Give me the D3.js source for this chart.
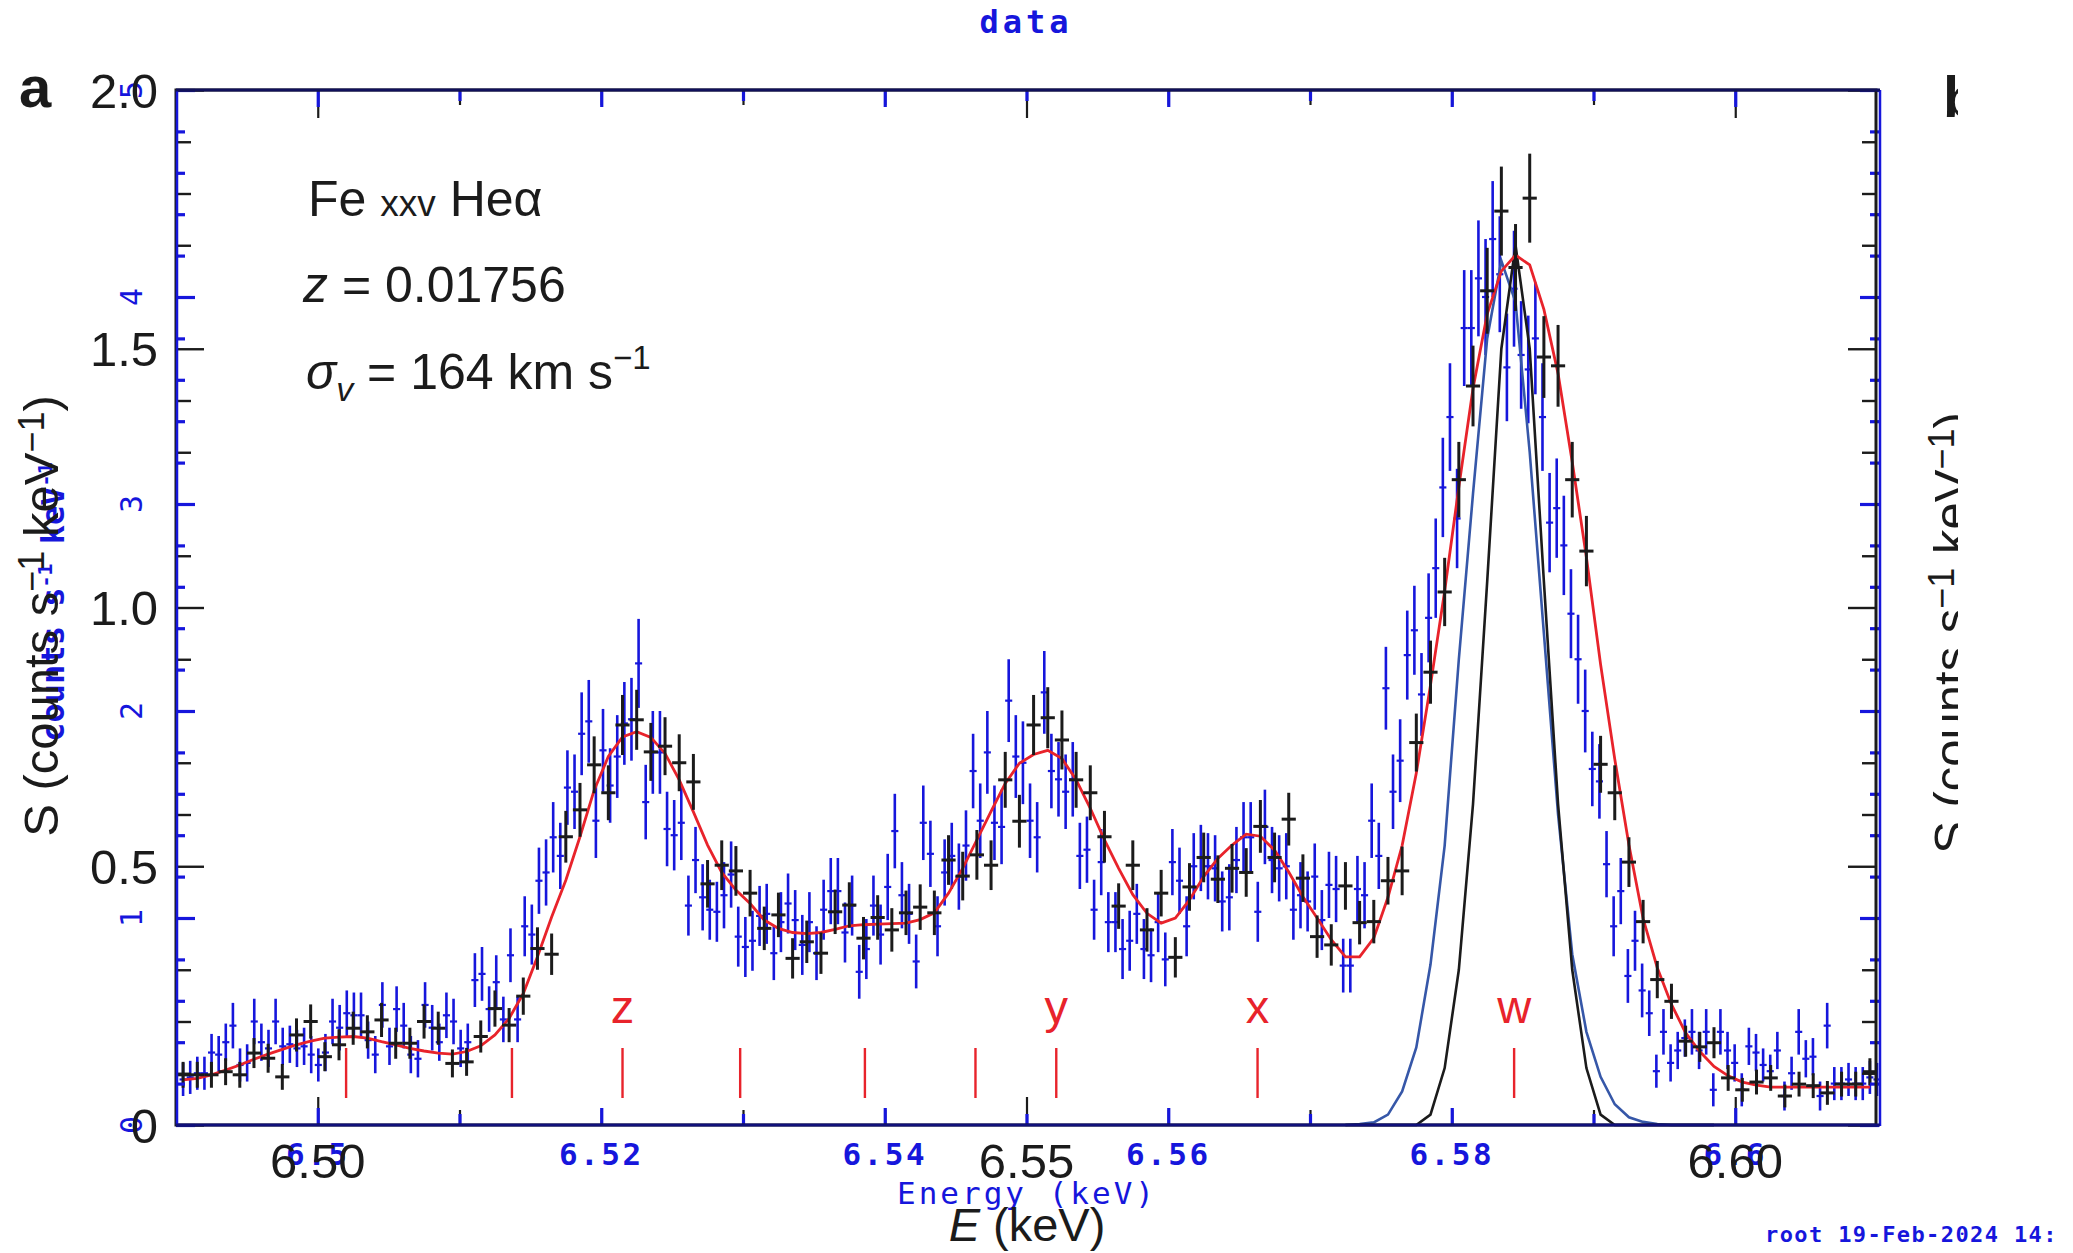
<!DOCTYPE html>
<html><head><meta charset="utf-8">
<script src="https://cdn.jsdelivr.net/npm/d3@7"></script>
<style>html,body{margin:0;padding:0;background:#fff;}svg{display:block;}</style>
</head><body>
<svg id="c" width="2073" height="1253"></svg>
<script>
// ---------------- DATA ----------------
// Black (figure) spectrum: 1 eV bins starting at 6.4905 keV, S in counts s^-1 keV^-1
const blackStart = 6.4905, blackStep = 0.001;
const blackS = [0.097,0.097,0.097,0.103,0.097,0.139,0.129,0.093,0.174,0.200,0.132,0.155,0.187,0.180,0.203,0.158,0.158,0.200,0.187,0.119,0.122,0.171,0.225,0.193,0.249,0.341,0.330,0.557,0.609,0.696,0.642,
0.773,0.783,0.721,0.732,0.700,0.663,0.466,0.502,0.491,0.448,0.380,0.406,0.322,0.354,0.332,0.412,0.425,0.361,0.401,0.377,0.410,0.421,0.410,0.512,0.481,0.522,0.502,0.667,0.587,0.773,
0.787,0.744,0.667,0.642,0.557,0.423,0.502,0.377,0.448,0.324,0.460,0.517,0.475,0.496,0.488,0.577,0.517,0.591,0.477,0.364,0.348,0.462,0.391,0.393,0.472,0.491,0.739,0.875,1.030,1.247,
1.428,1.612,1.766,1.657,1.791,1.484,1.467,1.247,1.109,0.697,0.642,0.508,0.393,0.281,0.239,0.162,0.151,0.159,0.091,0.068,0.083,0.091,0.056,0.079,0.076,0.062,0.079,0.079,0.103];
const blackErr = [0.025,0.025,0.025,0.026,0.025,0.029,0.028,0.025,0.032,0.033,0.028,0.030,0.032,0.032,0.033,0.030,0.030,0.033,0.032,0.027,0.027,0.031,0.035,0.033,0.036,0.041,0.040,0.050,0.052,0.055,0.053,
0.058,0.058,0.056,0.056,0.055,0.054,0.046,0.048,0.048,0.045,0.042,0.043,0.039,0.041,0.040,0.043,0.044,0.041,0.043,0.042,0.043,0.044,0.043,0.048,0.047,0.048,0.048,0.054,0.051,0.058,
0.059,0.057,0.054,0.053,0.050,0.044,0.048,0.042,0.045,0.039,0.046,0.048,0.046,0.047,0.047,0.051,0.048,0.051,0.046,0.041,0.040,0.046,0.042,0.042,0.046,0.047,0.056,0.061,0.066,0.073,
0.078,0.083,0.086,0.084,0.086,0.079,0.079,0.073,0.068,0.055,0.053,0.048,0.042,0.036,0.034,0.030,0.029,0.030,0.025,0.023,0.024,0.025,0.022,0.024,0.024,0.023,0.024,0.024,0.026];
// Red model, evaluated at the black bin centres
const modelS = [0.087,0.090,0.097,0.106,0.116,0.127,0.137,0.146,0.155,0.162,0.168,0.170,0.171,0.168,0.161,0.155,0.148,0.143,0.139,0.137,0.142,0.153,0.174,0.206,0.254,0.325,0.402,0.473,0.557,0.647,0.712,
0.750,0.760,0.749,0.718,0.667,0.605,0.541,0.488,0.454,0.428,0.396,0.380,0.372,0.370,0.372,0.378,0.385,0.387,0.388,0.389,0.390,0.397,0.410,0.448,0.496,0.551,0.606,0.660,0.699,0.716,
0.724,0.708,0.667,0.612,0.551,0.496,0.445,0.409,0.390,0.400,0.435,0.480,0.515,0.541,0.562,0.558,0.531,0.489,0.441,0.400,0.358,0.325,0.325,0.361,0.440,0.540,0.680,0.850,1.032,1.233,
1.423,1.567,1.650,1.681,1.662,1.576,1.452,1.281,1.097,0.890,0.707,0.541,0.399,0.304,0.233,0.178,0.142,0.113,0.095,0.083,0.077,0.073,0.073,0.073,0.073,0.073,0.073,0.073,0.073];
// w-line profiles (black: intrinsic, dark blue: broadened), black bins 82..108
const wFirstBin = 82;
const wNarrow = [0,0,0,0,0,0,0.02,0.11,0.30,0.62,1.05,1.50,1.70,1.50,1.05,0.62,0.30,0.11,0.02,0,0,0,0,0,0,0,0];
const wBroad  = [0,0.002,0.005,0.02,0.065,0.15,0.31,0.54,0.90,1.22,1.52,1.67,1.59,1.30,0.95,0.60,0.33,0.18,0.093,0.04,0.015,0.006,0.002,0,0,0,0];
// Blue (XSPEC) spectrum: 0.5 eV bins from 6.4905 to 6.6100 keV, counts s^-1 keV^-1
const blueFirst = 6.4905, blueLast = 6.6100;
const blueC = [0.22,0.23,0.25,0.25,0.35,0.34,0.40,0.48,0.29,0.30,
0.50,0.40,0.37,0.50,0.38,0.39,0.37,0.38,0.34,0.29,
0.35,0.50,0.47,0.54,0.53,0.53,0.41,0.34,0.58,0.38,
0.56,0.48,0.34,0.32,0.58,0.47,0.40,0.53,0.50,0.37,
0.40,0.70,0.73,0.56,0.69,0.51,0.82,0.51,0.96,0.92,
1.18,1.22,1.39,1.30,1.63,1.61,1.89,1.95,1.47,1.81,
1.64,1.78,1.94,1.96,2.23,1.56,1.80,1.80,1.43,1.40,
1.46,1.06,1.28,1.10,1.04,1.03,1.11,1.21,0.91,0.86,
0.89,1.01,1.02,0.83,0.98,1.07,0.99,0.87,0.98,0.83,
1.04,1.13,1.13,0.93,1.06,0.74,0.85,1.06,0.92,1.15,
1.42,1.11,1.02,0.79,1.46,1.31,0.96,1.22,1.30,1.20,
1.35,1.71,1.47,1.80,1.46,1.44,2.05,1.78,1.75,1.47,
1.39,2.09,1.71,1.67,1.61,1.67,1.30,1.33,1.04,1.27,
0.98,0.98,0.85,0.89,1.02,0.85,0.82,0.98,0.80,1.27,
1.18,0.96,1.25,1.29,1.25,1.24,1.08,1.10,1.28,1.39,
1.39,1.03,1.44,1.28,1.24,1.25,1.04,1.11,1.08,1.20,
0.99,1.16,1.14,0.77,0.77,1.14,1.11,1.47,1.30,2.11,
1.61,1.76,2.27,2.39,2.08,2.45,2.69,3.08,3.42,2.93,
3.85,3.85,4.09,4.00,4.28,4.11,3.66,4.04,3.72,3.65,
3.80,3.42,2.91,2.98,2.80,2.47,2.25,2.00,1.72,1.66,
1.26,0.96,1.13,0.72,0.89,0.65,0.54,0.26,0.45,0.30,
0.36,0.42,0.45,0.36,0.45,0.17,0.45,0.36,0.30,0.17,
0.38,0.35,0.29,0.26,0.36,0.14,0.25,0.45,0.32,0.33,
0.14,0.48,0.20,0.20,0.22,0.20,0.20,0.23,0.22];
const blueErr = [0.08,0.08,0.08,0.08,0.09,0.09,0.09,0.11,0.08,0.09,
0.11,0.09,0.09,0.11,0.09,0.09,0.09,0.09,0.09,0.08,
0.09,0.11,0.11,0.11,0.11,0.11,0.09,0.09,0.11,0.09,
0.11,0.11,0.09,0.09,0.11,0.11,0.09,0.11,0.11,0.09,
0.09,0.13,0.13,0.11,0.13,0.11,0.13,0.11,0.145,0.145,
0.16,0.16,0.17,0.16,0.18,0.18,0.20,0.20,0.18,0.20,
0.18,0.20,0.20,0.20,0.215,0.18,0.20,0.20,0.18,0.17,
0.18,0.145,0.16,0.16,0.145,0.145,0.16,0.16,0.145,0.145,
0.145,0.145,0.145,0.13,0.145,0.145,0.145,0.145,0.145,0.13,
0.145,0.16,0.16,0.145,0.145,0.13,0.145,0.145,0.145,0.16,
0.18,0.16,0.145,0.13,0.18,0.16,0.145,0.16,0.16,0.16,
0.17,0.18,0.18,0.20,0.18,0.18,0.20,0.20,0.20,0.18,
0.17,0.20,0.18,0.18,0.18,0.18,0.16,0.16,0.145,0.16,
0.145,0.145,0.145,0.145,0.145,0.145,0.13,0.145,0.13,0.16,
0.16,0.145,0.16,0.16,0.16,0.16,0.145,0.16,0.16,0.17,
0.17,0.145,0.18,0.16,0.16,0.16,0.145,0.16,0.145,0.16,
0.145,0.16,0.16,0.13,0.13,0.16,0.16,0.18,0.16,0.20,
0.18,0.20,0.215,0.215,0.20,0.215,0.24,0.24,0.26,0.24,
0.28,0.28,0.28,0.28,0.28,0.28,0.26,0.28,0.26,0.26,
0.27,0.26,0.24,0.24,0.24,0.215,0.215,0.20,0.18,0.18,
0.16,0.145,0.16,0.13,0.145,0.13,0.11,0.08,0.11,0.09,
0.09,0.09,0.11,0.09,0.11,0.08,0.11,0.09,0.09,0.08,
0.09,0.09,0.08,0.08,0.09,0.07,0.08,0.11,0.09,0.09,
0.07,0.11,0.08,0.08,0.08,0.08,0.08,0.08,0.08];
// line markers (keV) and labels
const markerE = [6.5020,6.5137,6.5215,6.5298,6.5386,6.5464,6.5521,6.5663,6.5844];
const markerLabel = ["","","z","","","","y","x","w"];
// axis ticks
const xMajor = [6.50,6.55,6.60];
const xMajorLabel = ["6.50","6.55","6.60"];
const xMinor = [6.51,6.52,6.53,6.54,6.56,6.57,6.58,6.59];
const yMajor = [0,0.5,1.0,1.5,2.0];
const yMajorLabel = ["0","0.5","1.0","1.5","2.0"];
const yMinor = [0.1,0.2,0.3,0.4,0.6,0.7,0.8,0.9,1.1,1.2,1.3,1.4,1.6,1.7,1.8,1.9];
const bxMajor = [6.50,6.52,6.54,6.56,6.58,6.60];
const bxMajorLabel = ["6.5","6.52","6.54","6.56","6.58","6.6"];
const bxMinor = [6.51,6.53,6.55,6.57,6.59];
const byMajor = [0,1,2,3,4,5];
const byMinor = [0.2,0.4,0.6,0.8,1.2,1.4,1.6,1.8,2.2,2.4,2.6,2.8,3.2,3.4,3.6,3.8,4.2,4.4,4.6,4.8];

// ---------------- SCALES ----------------
const L=176, R=1876, T=90, B=1125;
const x = d3.scaleLinear().domain([6.49,6.61]).range([L,R+1]);
const yS = d3.scaleLinear().domain([0,2]).range([B,T]);
const yC = d3.scaleLinear().domain([0,5]).range([B,T]);
const blackE = blackS.map((_,i)=>blackStart+blackStep*i);
const blueE = blueC.map((_,k)=>blueFirst+k*(blueLast-blueFirst)/(blueC.length-1));

const BLUE="#1616dc", BLK="#1b1b1b", RED="#e8232b", LINEBLUE="#3657a8";
const svg = d3.select('#c');
const NF = "'Liberation Sans', Arial, Helvetica, sans-serif";
const MF = "'DejaVu Sans Mono', 'Liberation Mono', monospace";

// ---------------- XSPEC (blue) layer ----------------
const gBlue = svg.append('g');
gBlue.selectAll('line.v').data(blueC).join('line')
  .attr('x1',(d,i)=>x(blueE[i])).attr('x2',(d,i)=>x(blueE[i]))
  .attr('y1',(d,i)=>yC(d-blueErr[i])).attr('y2',(d,i)=>yC(d+blueErr[i]))
  .attr('stroke',BLUE).attr('stroke-width',2.6);
gBlue.selectAll('line.h').data(blueC).join('line')
  .attr('x1',(d,i)=>x(blueE[i]-0.00025)).attr('x2',(d,i)=>x(blueE[i]+0.00025))
  .attr('y1',d=>yC(d)).attr('y2',d=>yC(d))
  .attr('stroke',BLUE).attr('stroke-width',2.2);

// ---------------- model & line profiles ----------------
const line = d3.line().x(d=>x(d[0])).y(d=>yS(d[1]));
svg.append('path').datum(wBroad.map((v,i)=>[blackE[wFirstBin+i],v]))
  .attr('d',line).attr('fill','none').attr('stroke',LINEBLUE).attr('stroke-width',2.6);
svg.append('path').datum(wNarrow.map((v,i)=>[blackE[wFirstBin+i],v]))
  .attr('d',line).attr('fill','none').attr('stroke',BLK).attr('stroke-width',2.6);
svg.append('path').datum(modelS.map((v,i)=>[blackE[i],v]))
  .attr('d',line).attr('fill','none').attr('stroke',RED).attr('stroke-width',2.8);

// ---------------- black data crosses ----------------
const gB = svg.append('g');
gB.selectAll('line.v').data(blackS).join('line')
  .attr('x1',(d,i)=>x(blackE[i])).attr('x2',(d,i)=>x(blackE[i]))
  .attr('y1',(d,i)=>yS(d-blackErr[i])).attr('y2',(d,i)=>yS(d+blackErr[i]))
  .attr('stroke',BLK).attr('stroke-width',3);
gB.selectAll('line.h').data(blackS).join('line')
  .attr('x1',(d,i)=>x(blackE[i]-0.0005)).attr('x2',(d,i)=>x(blackE[i]+0.0005))
  .attr('y1',d=>yS(d)).attr('y2',d=>yS(d))
  .attr('stroke',BLK).attr('stroke-width',3);

// ---------------- red line markers ----------------
svg.selectAll('line.mk').data(markerE).join('line')
  .attr('x1',d=>x(d)).attr('x2',d=>x(d))
  .attr('y1',B-77).attr('y2',B-27).attr('stroke',RED).attr('stroke-width',2.4);
svg.selectAll('text.mk').data(markerE).join('text')
  .attr('x',d=>x(d)).attr('y',B-102).attr('text-anchor','middle')
  .attr('font-family',NF).attr('font-size',47).attr('fill',RED)
  .text((d,i)=>markerLabel[i]);

// ---------------- axes / ticks ----------------
function ticks(gen, scale, vals, len, color, w, tr){
  const g = svg.append('g').attr('transform',tr)
    .call(gen(scale).tickValues(vals).tickSize(-len).tickFormat(''));
  g.select('.domain').remove();
  g.selectAll('line').attr('stroke',color).attr('stroke-width',w);
}
// black (figure) ticks
ticks(d3.axisBottom,x,xMajor,28,BLK,2.2,`translate(0,${B})`);
ticks(d3.axisBottom,x,xMinor,15,BLK,2.2,`translate(0,${B})`);
ticks(d3.axisTop,x,xMajor,28,BLK,2.2,`translate(0,${T})`);
ticks(d3.axisTop,x,xMinor,15,BLK,2.2,`translate(0,${T})`);
ticks(d3.axisLeft,yS,yMajor,28,BLK,2.4,`translate(${L},0)`);
ticks(d3.axisLeft,yS,yMinor,15,BLK,2.4,`translate(${L},0)`);
ticks(d3.axisRight,yS,yMajor,28,BLK,2.4,`translate(${R},0)`);
ticks(d3.axisRight,yS,yMinor,14,BLK,2.4,`translate(${R},0)`);
// blue (XSPEC) ticks
ticks(d3.axisBottom,x,bxMajor,17,BLUE,3.2,`translate(0,${B})`);
ticks(d3.axisBottom,x,bxMinor,11,BLUE,3.2,`translate(0,${B})`);
ticks(d3.axisTop,x,bxMajor,17,BLUE,3.2,`translate(0,${T})`);
ticks(d3.axisTop,x,bxMinor,11,BLUE,3.2,`translate(0,${T})`);
ticks(d3.axisLeft,yC,byMajor,19,BLUE,3.2,`translate(${L},0)`);
ticks(d3.axisLeft,yC,byMinor,9,BLUE,3.2,`translate(${L},0)`);
ticks(d3.axisRight,yC,byMajor,19,BLUE,3.2,`translate(${R+3},0)`);
ticks(d3.axisRight,yC,byMinor,9,BLUE,3.2,`translate(${R+3},0)`);

// frames
svg.append('rect').attr('x',L).attr('y',T).attr('width',R-L).attr('height',B-T)
  .attr('fill','none').attr('stroke',BLK).attr('stroke-width',3);
svg.append('line').attr('x1',L+1).attr('x2',L+1).attr('y1',T).attr('y2',B).attr('stroke',BLUE).attr('stroke-width',2.5);
svg.append('line').attr('x1',R+4).attr('x2',R+4).attr('y1',T).attr('y2',B+1).attr('stroke',BLUE).attr('stroke-width',2.5);
svg.append('line').attr('x1',L).attr('x2',R+4).attr('y1',B).attr('y2',B).attr('stroke','#10107a').attr('stroke-width',3);
svg.append('line').attr('x1',L).attr('x2',R+4).attr('y1',T).attr('y2',T).attr('stroke','#10105a').attr('stroke-width',3);

// ---------------- XSPEC text ----------------
svg.selectAll('text.bx').data(bxMajor).join('text')
  .attr('x',d=>x(d)).attr('y',1165).attr('text-anchor','middle')
  .attr('font-family',MF).attr('font-weight','bold').attr('font-size',31)
  .attr('letter-spacing',2.5).attr('fill',BLUE).text((d,i)=>bxMajorLabel[i]);
svg.selectAll('text.by').data(byMajor).join('text')
  .attr('transform',d=>`translate(131,${yC(d)}) rotate(-90)`)
  .attr('text-anchor','middle').attr('dominant-baseline','central')
  .attr('font-family',MF).attr('font-size',30).attr('fill',BLUE).text(d=>d);
svg.append('text').attr('x',1026).attr('y',33).attr('text-anchor','middle')
  .attr('font-family',MF).attr('font-weight','bold').attr('font-size',32).attr('letter-spacing',4)
  .attr('fill',BLUE).text('data');
svg.append('text').attr('x',1027).attr('y',1204).attr('text-anchor','middle')
  .attr('font-family',MF).attr('font-size',31).attr('letter-spacing',3)
  .attr('fill',BLUE).text('Energy (keV)');
svg.append('text').attr('x',1765).attr('y',1242)
  .attr('font-family',MF).attr('font-weight','bold').attr('font-size',22).attr('letter-spacing',1.4)
  .attr('fill',BLUE).text('root 19-Feb-2024 14:');
const byt = svg.append('text').attr('transform','translate(64,602) rotate(-90)')
  .attr('text-anchor','middle').attr('font-family',MF).attr('font-weight','bold').attr('font-size',32)
  .attr('fill',BLUE);
byt.append('tspan').text('counts s');
byt.append('tspan').attr('font-size',20).attr('dy',-12).text('-1');
byt.append('tspan').attr('dy',12).text(' keV');
byt.append('tspan').attr('font-size',20).attr('dy',-12).text('-1');

// ---------------- figure (black) text ----------------
svg.selectAll('text.yl').data(yMajor).join('text')
  .attr('x',158).attr('y',d=>yS(d)+17.5).attr('text-anchor','end')
  .attr('font-family',NF).attr('font-size',49).attr('fill',BLK).text((d,i)=>yMajorLabel[i]);
svg.selectAll('text.xl').data(xMajor).join('text')
  .attr('x',d=>x(d)).attr('y',1178).attr('text-anchor','middle')
  .attr('font-family',NF).attr('font-size',49).attr('fill',BLK).text((d,i)=>xMajorLabel[i]);
const xt = svg.append('text').attr('x',1027).attr('y',1241).attr('text-anchor','middle')
  .attr('font-family',NF).attr('font-size',47).attr('fill',BLK);
xt.append('tspan').attr('font-style','italic').text('E');
xt.append('tspan').text(' (keV)');

function yLabel(parent,tx,ty){
  const t = parent.append('text').attr('transform',`translate(${tx},${ty}) rotate(-90)`)
    .attr('text-anchor','middle').attr('font-family',NF).attr('font-size',49).attr('fill',BLK);
  t.append('tspan').text('S (counts s');
  t.append('tspan').attr('font-size',36).attr('dy',-14).text('\u22121');
  t.append('tspan').attr('dy',14).text(' keV');
  t.append('tspan').attr('font-size',36).attr('dy',-14).text('\u22121');
  t.append('tspan').attr('dy',14).text(')');
  return t;
}
yLabel(svg,58,616);
svg.append('defs').append('clipPath').attr('id','rc').append('rect')
  .attr('x',1900).attr('y',0).attr('width',58).attr('height',1253);
const rg = svg.append('g').attr('clip-path','url(#rc)');
yLabel(rg,1968,633);
rg.append('text').attr('x',1943).attr('y',117).attr('font-family',NF).attr('font-weight','bold')
  .attr('font-size',58).attr('fill',BLK).text('b');
svg.append('text').attr('x',19).attr('y',107).attr('font-family',NF).attr('font-weight','bold')
  .attr('font-size',58).attr('fill',BLK).text('a');

const t1 = svg.append('text').attr('x',308).attr('y',216).attr('font-family',NF).attr('font-size',50).attr('fill',BLK);
t1.append('tspan').text('Fe ');
t1.append('tspan').attr('font-size',37).text('xxv');
t1.append('tspan').text(' He\u03b1');
const t2 = svg.append('text').attr('x',303).attr('y',302).attr('font-family',NF).attr('font-size',50).attr('fill',BLK);
t2.append('tspan').attr('font-style','italic').text('z');
t2.append('tspan').text(' = 0.01756');
const t3 = svg.append('text').attr('x',306).attr('y',389).attr('font-family',NF).attr('font-size',50).attr('fill',BLK);
t3.append('tspan').attr('font-style','italic').text('\u03c3');
t3.append('tspan').attr('font-style','italic').attr('font-size',34).attr('dy',12).text('v');
t3.append('tspan').attr('dy',-12).text(' = 164 km s');
t3.append('tspan').attr('font-size',33).attr('dy',-20).text('\u22121');
</script>
</body></html>
